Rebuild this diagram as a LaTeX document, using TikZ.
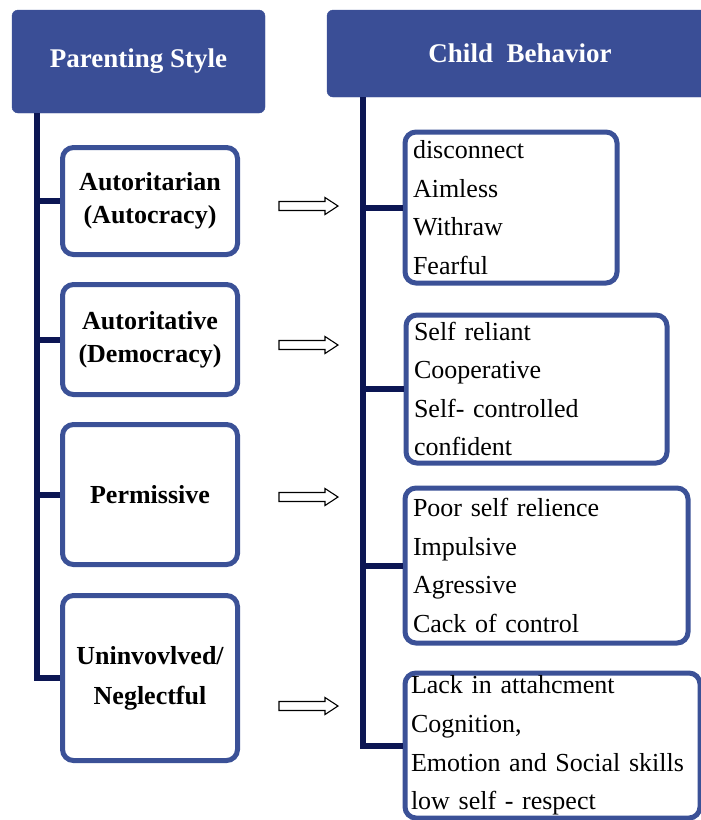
\documentclass[tikz,border=0pt]{standalone}
\usepackage{fontspec}
\setmainfont{Liberation Serif}
\definecolor{hdrblue}{HTML}{3A4E96}
\definecolor{boxblue}{HTML}{3B5197}
\definecolor{spinenavy}{HTML}{0C1654}
\begin{document}
\begin{tikzpicture}[x=1pt,y=-1pt,
  header/.style={fill=hdrblue, draw=hdrblue, rounded corners=6pt, text=white,
    font=\fontsize{27}{30}\selectfont\bfseries, inner sep=0pt},
  stylebox/.style={draw=boxblue, line width=5pt, rounded corners=11pt, fill=white,
    minimum width=175pt, inner sep=0pt, align=center,
    font=\fontsize{26}{33}\selectfont\bfseries},
  behavbox/.style={draw=boxblue, line width=5pt, rounded corners=11pt, fill=white,
    inner ysep=0pt, inner xsep=8pt, align=left, anchor=north west,
    font=\fontsize{26}{38.6}\selectfont},
  spine/.style={draw=spinenavy, line width=6pt},
  openarrow/.style={draw=black, line width=1.1pt, fill=white, line join=miter}]
\useasboundingbox (0,0) rectangle (701,820);
% headers
\node[header, minimum width=253pt, minimum height=103pt] (lh) at (138.5,61.5) {Parenting Style};
\node[header, minimum width=386pt, minimum height=87pt] (rh) at (520,53.5) {Child\ \ Behavior};
% spine coordinates
\coordinate (lx) at (37,0);
\coordinate (rx) at (363,0);
% left boxes
\node[stylebox, minimum height=107pt] (lb1) at (150,201) {Autoritarian\\(Autocracy)};
\node[stylebox, minimum height=110pt] (lb2) at (150,339.5) {Autoritative\\(Democracy)};
\node[stylebox, minimum height=140pt] (lb3) at (150,494.5) {Permissive};
\node[stylebox, minimum height=165pt] (lb4) at (150,678) {Uninvovlved/\\[7pt]Neglectful};
% right boxes
\node[behavbox, minimum width=212pt, text width=196pt, minimum height=151pt] (rb1) at (402.5,129.5)
  {disconnect\\Aimless\\Withraw\\Fearful};
\node[behavbox, minimum width=261pt, text width=245pt, minimum height=148pt] (rb2) at (403.5,312.5)
  {Self reliant\\Cooperative\\Self- controlled\\confident};
\node[behavbox, minimum width=283pt, text width=267pt, minimum height=155pt] (rb3) at (402.5,485.5)
  {Poor self relience\\Impulsive\\Agressive\\Cack of control};
\node[behavbox, minimum width=295pt, text width=283pt, inner xsep=6pt, minimum height=145pt] (rb4) at (402.5,670.5)
  {Lack in attahcment\\Cognition,\\Emotion and Social skills\\low self - respect};
% left spine and branches
\draw[spine] (lh.south -| lx) |- (lb4.west);
\foreach \b in {lb1,lb2,lb3} \draw[spine] (\b.west -| lx) -- (\b.west);
% right spine and branches
\draw[spine] (rh.south -| rx) |- (rb4.west);
\foreach \b in {rb1,rb2,rb3} \draw[spine] (\b.west -| rx) -- (\b.west);
% arrows
\coordinate (a1) at (279,206);
\coordinate (a2) at (279,345);
\coordinate (a3) at (279,497);
\coordinate (a4) at (279,706);
\foreach \a in {a1,a2,a3,a4}
  \draw[openarrow] (\a) ++(0,-4.5) -- ++(46,0) -- ++(0,-4) -- ++(13,8.5) -- ++(-13,8.5) -- ++(0,-4) -- ++(-46,0) -- cycle;
\end{tikzpicture}
\end{document}
